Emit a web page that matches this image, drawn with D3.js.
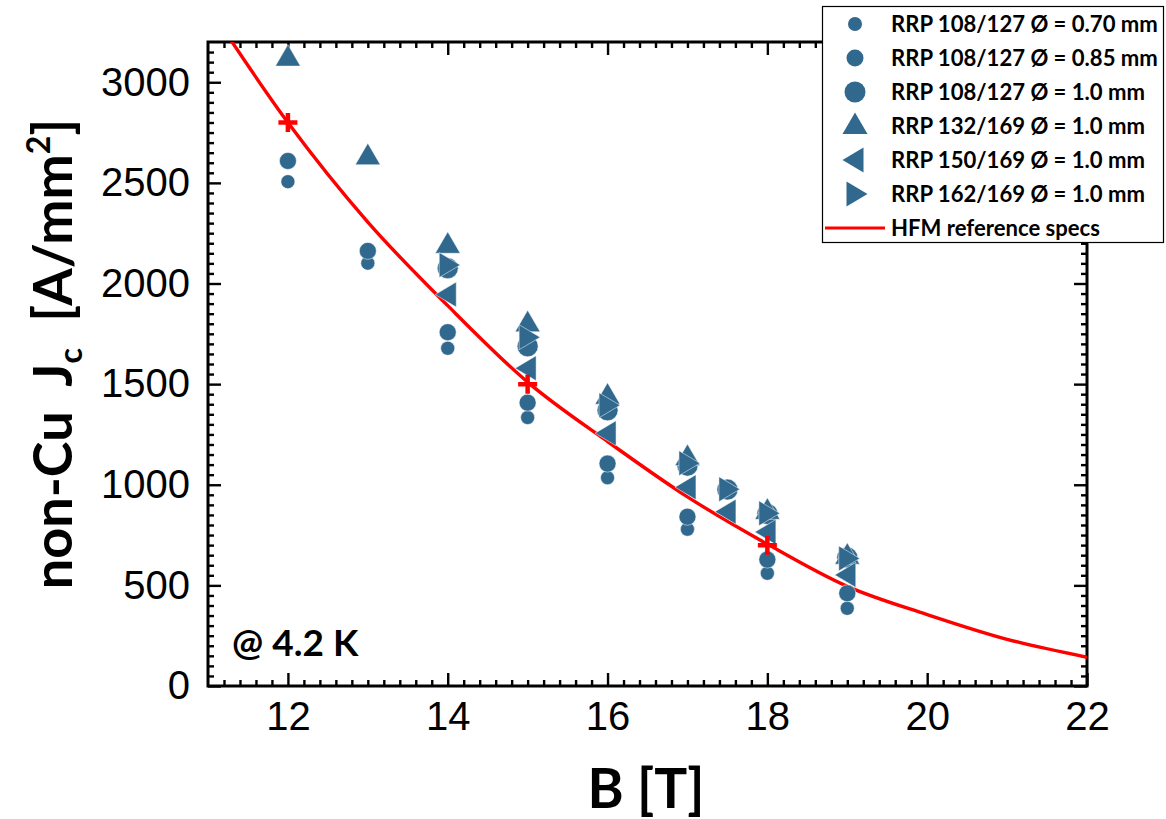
<!DOCTYPE html>
<html>
<head>
<meta charset="utf-8">
<script src="https://cdn.jsdelivr.net/npm/d3@7"></script>
<style>
  body { margin: 0; background: #fff; }
  #chart { width: 1166px; height: 819px; }
</style>
</head>
<body>
<div id="chart"></div>
<script>
// field values [T] and non-Cu Jc [A/mm2] per wire
const b070 = [12, 13, 14, 15, 16, 17, 18, 19];
const jc070 = [2506, 2101, 1678, 1334, 1035, 779, 560, 386];

const b085 = [12, 13, 14, 15, 16, 17, 18, 19];
const jc085 = [2609, 2162, 1758, 1408, 1105, 841, 628, 461];

const b100 = [14, 15, 16, 17, 17.5, 18, 19];
const jc100 = [2076, 1688, 1370, 1095, 976, 855, 638];

const b132 = [12, 13, 14, 15, 16, 17, 18, 19];
const jc132 = [3120, 2630, 2190, 1800, 1440, 1135, 868, 645];

const b150 = [14, 15, 16, 17, 17.5, 18, 19];
const jc150 = [1945, 1579, 1256, 988, 866, 765, 552];

const b162 = [14, 15, 16, 17, 17.5, 18, 19];
const jc162 = [2092, 1733, 1395, 1107, 978, 858, 634];

// HFM reference specs
const specB = [12, 15, 18];
const specJc = [2800, 1500, 700];
const curveB = [11, 12, 13, 14, 15, 16, 17, 18, 19, 20, 21, 22];
const curveJc = [3380, 2800, 2305, 1890, 1510, 1215, 940, 705, 495, 355, 232, 143];

const xMajor = [12, 14, 16, 18, 20, 22];
const yMajor = [0, 500, 1000, 1500, 2000, 2500, 3000];

const legendLabels = [
  "RRP 108/127 Ø = 0.70 mm",
  "RRP 108/127 Ø = 0.85 mm",
  "RRP 108/127 Ø = 1.0 mm",
  "RRP 132/169 Ø = 1.0 mm",
  "RRP 150/169 Ø = 1.0 mm",
  "RRP 162/169 Ø = 1.0 mm",
  "HFM reference specs"
];

const blue = "#31688e";
const red = "#ff0000";

const shapes = {
  c070: "circle7",
  c085: "circle8.5",
  c100: "circle10.5",
  up: "M0,-13.5L12.5,8L-12.5,8Z",
  left: "M-12.5,0L8.5,-12.5L8.5,12.5Z",
  right: "M12.5,0L-8.5,-12.5L-8.5,12.5Z"
};

const series = [
  { b: b070, jc: jc070, shape: "c070" },
  { b: b085, jc: jc085, shape: "c085" },
  { b: b100, jc: jc100, shape: "c100" },
  { b: b132, jc: jc132, shape: "up" },
  { b: b150, jc: jc150, shape: "left" },
  { b: b162, jc: jc162, shape: "right" }
];

function drawMarker(sel, shape) {
  if (shapes[shape].startsWith("circle")) {
    sel.append("circle").attr("r", +shapes[shape].slice(6));
  } else {
    sel.append("path").attr("d", shapes[shape]);
  }
}

const W = 1166, H = 819;
const plotL = 208, plotR = 1087, plotT = 42, plotB = 686;

const svg = d3.select("#chart").append("svg")
  .attr("width", W)
  .attr("height", H)
  .style("font-family", "'Liberation Sans', Arial, sans-serif");

const x = d3.scaleLinear().domain([11, 22]).range([plotL, plotR]);
const y = d3.scaleLinear().domain([0, 3200]).range([plotB, plotT]);

const xMinor = d3.range(11.2, 22, 0.2).map(v => +v.toFixed(1)).filter(v => !xMajor.includes(v));
const yMinor = d3.range(50, 3200, 50).filter(v => !yMajor.includes(v));

// AXES (ticks point inward on all four sides)
function styleAxis(g) {
  g.select(".domain").remove();
  g.selectAll(".tick line").attr("stroke", "#000").attr("stroke-width", 2.4);
}

svg.append("g").attr("transform", `translate(0,${plotB})`)
  .call(d3.axisBottom(x).tickValues(xMajor).tickSize(-13).tickPadding(16).tickFormat(d3.format("d")))
  .call(styleAxis)
  .selectAll("text").attr("font-size", 40).attr("fill", "#000");
svg.append("g").attr("transform", `translate(0,${plotB})`)
  .call(d3.axisBottom(x).tickValues(xMinor).tickSize(-6).tickFormat("")).call(styleAxis);
svg.append("g").attr("transform", `translate(0,${plotT})`)
  .call(d3.axisTop(x).tickValues(xMajor).tickSize(-13).tickFormat("")).call(styleAxis);
svg.append("g").attr("transform", `translate(0,${plotT})`)
  .call(d3.axisTop(x).tickValues(xMinor).tickSize(-6).tickFormat("")).call(styleAxis);

svg.append("g").attr("transform", `translate(${plotL},0)`)
  .call(d3.axisLeft(y).tickValues(yMajor).tickSize(-13).tickPadding(18).tickFormat(d3.format("d")))
  .call(styleAxis)
  .selectAll("text").attr("font-size", 40).attr("fill", "#000");
svg.append("g").attr("transform", `translate(${plotL},0)`)
  .call(d3.axisLeft(y).tickValues(yMinor).tickSize(-6).tickFormat("")).call(styleAxis);
svg.append("g").attr("transform", `translate(${plotR},0)`)
  .call(d3.axisRight(y).tickValues(yMajor).tickSize(-13).tickFormat("")).call(styleAxis);
svg.append("g").attr("transform", `translate(${plotR},0)`)
  .call(d3.axisRight(y).tickValues(yMinor).tickSize(-6).tickFormat("")).call(styleAxis);

svg.append("rect")
  .attr("x", plotL).attr("y", plotT)
  .attr("width", plotR - plotL).attr("height", plotB - plotT)
  .attr("fill", "none").attr("stroke", "#000").attr("stroke-width", 3);

// REFERENCE CURVE
svg.append("clipPath").attr("id", "plot-clip")
  .append("rect").attr("x", plotL).attr("y", plotT).attr("width", plotR - plotL).attr("height", plotB - plotT);

const curve = d3.line()
  .x((d, i) => x(curveB[i]))
  .y(d => y(d))
  .curve(d3.curveMonotoneX);

svg.append("path")
  .attr("clip-path", "url(#plot-clip)")
  .attr("d", curve(curveJc))
  .attr("fill", "none")
  .attr("stroke", red)
  .attr("stroke-width", 3.4);

// DATA MARKERS
series.forEach(s => {
  s.b.forEach((bv, i) => {
    const g = svg.append("g")
      .attr("transform", `translate(${x(bv)},${y(s.jc[i])})`)
      .attr("fill", blue)
      .attr("stroke", "#fff")
      .attr("stroke-width", 0.5);
    drawMarker(g, s.shape);
  });
});

svg.append("g").selectAll("path")
  .data(specB)
  .enter()
  .append("path")
  .attr("transform", (d, i) => `translate(${x(d)},${y(specJc[i])})`)
  .attr("d", "M-9.5,0H9.5M0,-9.5V9.5")
  .attr("stroke", red)
  .attr("stroke-width", 4.5)
  .attr("fill", "none");

// LABELS
svg.append("text")
  .attr("x", 232).attr("y", 656)
  .attr("font-family", "Lato, sans-serif")
  .attr("font-weight", "bold")
  .attr("font-size", 37)
  .text("@ 4.2 K");

svg.append("text")
  .attr("x", 646).attr("y", 808)
  .attr("text-anchor", "middle")
  .attr("font-family", "Lato, sans-serif")
  .attr("font-weight", "bold")
  .attr("font-size", 55)
  .text("B [T]");

const yTitle = svg.append("text")
  .attr("transform", "translate(72,354) rotate(-90)")
  .attr("text-anchor", "middle")
  .attr("font-family", "Lato, sans-serif")
  .attr("font-weight", "bold")
  .attr("font-size", 54);
yTitle.append("tspan").text("non-Cu\u00a0\u00a0J");
yTitle.append("tspan").attr("font-size", 32).attr("dy", 10).text("c");
yTitle.append("tspan").attr("dy", -10).text("\u00a0\u00a0[A/mm");
yTitle.append("tspan").attr("font-size", 32).attr("dy", -22).text("2");
yTitle.append("tspan").attr("dy", 22).text("]");

// LEGEND
const legend = svg.append("g");
legend.append("rect")
  .attr("x", 822.5).attr("y", 6.5)
  .attr("width", 341).attr("height", 236)
  .attr("fill", "#fff")
  .attr("stroke", "#000")
  .attr("stroke-width", 1.2);

const rowY = i => 24 + i * 34;

series.forEach((s, i) => {
  const g = legend.append("g")
    .attr("transform", `translate(855,${rowY(i)})`)
    .attr("fill", blue);
  drawMarker(g, s.shape);
});

legend.append("line")
  .attr("x1", 825).attr("x2", 885)
  .attr("y1", rowY(6)).attr("y2", rowY(6))
  .attr("stroke", red)
  .attr("stroke-width", 3);

legend.selectAll("text.lbl")
  .data(legendLabels)
  .enter()
  .append("text")
  .attr("class", "lbl")
  .attr("x", 891)
  .attr("y", (d, i) => rowY(i) + 8)
  .attr("font-family", "Lato, sans-serif")
  .attr("font-weight", "bold")
  .attr("font-size", 22.1)
  .text(d => d);
</script>
</body>
</html>
